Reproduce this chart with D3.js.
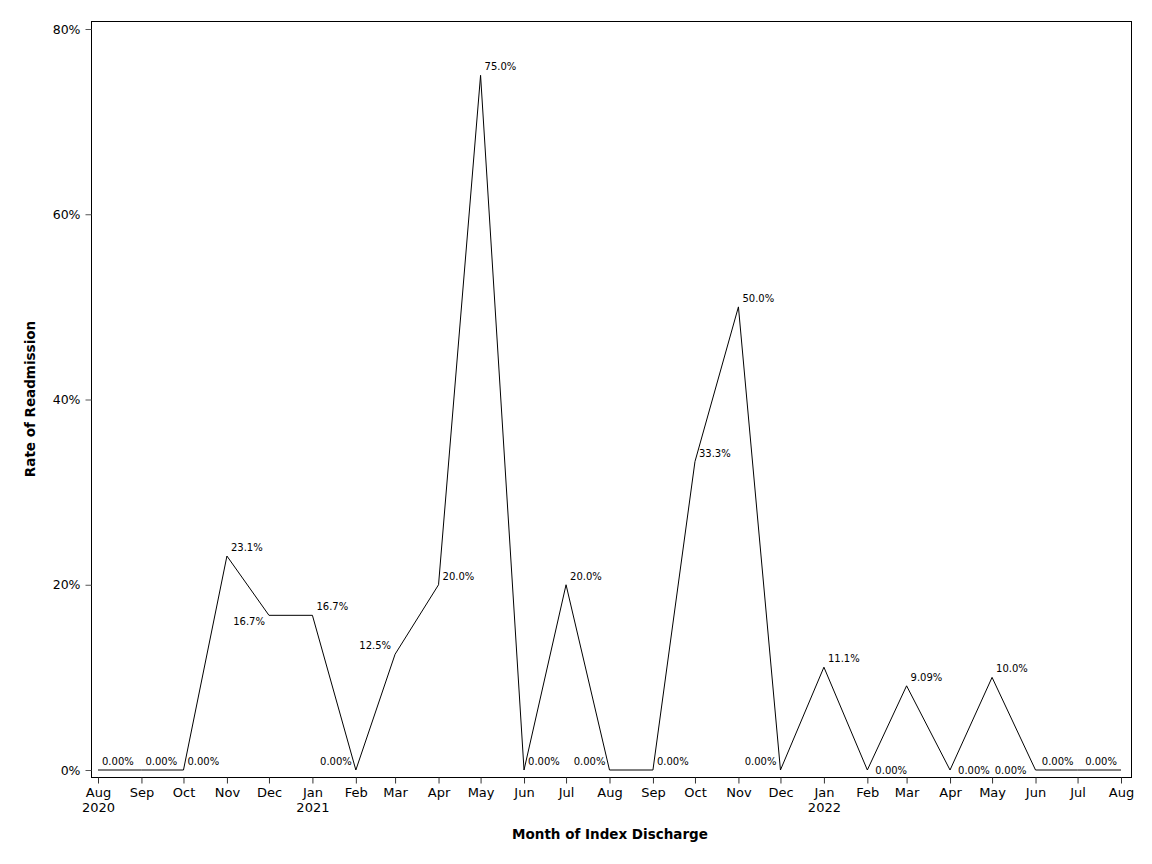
<!DOCTYPE html>
<html>
<head>
<meta charset="utf-8">
<script src="https://cdn.jsdelivr.net/npm/d3@7"></script>
<style>
  body { margin: 0; background: #fff; }
  text { font-family: "DejaVu Sans", sans-serif; }
</style>
</head>
<body>
<div id="chart"></div>
<script>
// month of index discharge (first of month)
const months = ["2020-08","2020-09","2020-10","2020-11","2020-12","2021-01","2021-02","2021-03",
  "2021-04","2021-05","2021-06","2021-07","2021-08","2021-09","2021-10","2021-11","2021-12",
  "2022-01","2022-02","2022-03","2022-04","2022-05","2022-06","2022-07","2022-08"];
// readmission rate, percent
const rates = [0, 0, 0, 23.1, 16.7, 16.7, 0, 12.5, 20.0, 75.0, 0, 20.0, 0, 0, 33.3, 50.0, 0,
  11.1, 0, 9.09, 0, 10.0, 0, 0, 0];
const rateLabels = ["0.00%","0.00%","0.00%","23.1%","16.7%","16.7%","0.00%","12.5%","20.0%","75.0%",
  "0.00%","20.0%","0.00%","0.00%","33.3%","50.0%","0.00%","11.1%","0.00%","9.09%","0.00%","10.0%",
  "0.00%","0.00%","0.00%"];
// where each point label sits
const labelSide = ["ne","ne","ne","ne","sw","ne","nw","nw","ne","ne","ne","ne","nw","ne","ne","ne","nw",
  "ne","e","ne","e","ne","w","nw","nw"];
const yTicks = [0, 20, 40, 60, 80];

const width = 1152, height = 864;
const frame = { left: 91, top: 21, right: 1131, bottom: 777 };

const parse = d3.timeParse("%Y-%m");
const data = months.map((m, i) => ({ date: parse(m), value: rates[i], label: rateLabels[i], side: labelSide[i] }));

const x = d3.scaleTime()
  .domain([data[0].date, data[data.length - 1].date])
  .range([98, 1121]);
const y = d3.scaleLinear()
  .domain([0, 80])
  .range([770, 29]);

const svg = d3.select("#chart").append("svg")
  .attr("width", width)
  .attr("height", height);

// frame
svg.append("rect")
  .attr("x", frame.left + 0.5)
  .attr("y", frame.top + 0.5)
  .attr("width", frame.right - frame.left)
  .attr("height", frame.bottom - frame.top)
  .attr("fill", "none")
  .attr("stroke", "#000")
  .attr("stroke-width", 1);

// x axis
const xAxis = d3.axisBottom(x)
  .tickValues(data.map(d => d.date))
  .tickSize(6)
  .tickPadding(4)
  .tickFormat(d => d3.timeFormat("%b")(d));
const gx = svg.append("g")
  .attr("transform", `translate(0, ${frame.bottom + 0.5})`)
  .call(xAxis);
gx.select(".domain").remove();
gx.selectAll(".tick line").attr("stroke", "#333");
gx.selectAll(".tick text")
  .attr("font-size", 13)
  .attr("fill", "#000")
  .each(function(d) {
    if (d.getMonth() === 0 || d === data[0].date) {
      d3.select(this).append("tspan")
        .attr("x", 0)
        .attr("dy", "1.2em")
        .text(d3.timeFormat("%Y")(d));
    }
  });

// y axis
const yAxis = d3.axisLeft(y)
  .tickValues(yTicks)
  .tickSize(6)
  .tickPadding(5)
  .tickFormat(d => d + "%");
const gy = svg.append("g")
  .attr("transform", `translate(${frame.left + 0.5}, 0)`)
  .call(yAxis);
gy.select(".domain").remove();
gy.selectAll(".tick line").attr("stroke", "#555");
gy.selectAll(".tick text").attr("font-size", 12.5).attr("fill", "#000");

// line
const line = d3.line()
  .x(d => x(d.date))
  .y(d => y(d.value));
svg.append("path")
  .datum(data)
  .attr("d", line)
  .attr("fill", "none")
  .attr("stroke", "#000")
  .attr("stroke-width", 1);

// point labels
const offs = {
  ne: { dx: 4, dy: -8, anchor: "start" },
  nw: { dx: -4, dy: -8, anchor: "end" },
  sw: { dx: -4, dy: 7, anchor: "end" },
  e:  { dx: 8, dy: 1, anchor: "start" },
  w:  { dx: -9, dy: 1, anchor: "end" }
};
svg.append("g").selectAll("text")
  .data(data)
  .join("text")
  .attr("x", d => x(d.date) + offs[d.side].dx)
  .attr("y", d => y(d.value) + offs[d.side].dy)
  .attr("text-anchor", d => offs[d.side].anchor)
  .attr("dominant-baseline", "middle")
  .attr("font-size", 10)
  .attr("fill", "#000")
  .text(d => d.label);

// axis titles
svg.append("text")
  .attr("x", 610)
  .attr("y", 839)
  .attr("text-anchor", "middle")
  .attr("font-size", 13.5)
  .attr("font-weight", "bold")
  .text("Month of Index Discharge");

svg.append("text")
  .attr("transform", `translate(35, 399) rotate(-90)`)
  .attr("text-anchor", "middle")
  .attr("font-size", 13.5)
  .attr("font-weight", "bold")
  .text("Rate of Readmission");
</script>
</body>
</html>
